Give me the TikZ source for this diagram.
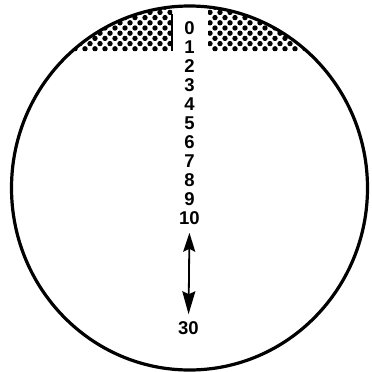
\documentclass[tikz,border=0pt]{standalone}
\usepackage{fontspec}
\setmainfont{Liberation Sans}
\usetikzlibrary{arrows.meta,calc,positioning}

\begin{document}
\begin{tikzpicture}[x=1pt,y=-1pt,
    scalelabel/.style={font=\fontsize{18.5}{18.5}\selectfont\bfseries, inner sep=0pt},
    rim/.style={line width=3.2pt}]
    \useasboundingbox (0,0) rectangle (372,372);
    \coordinate (O) at (189.5,188);

    % Shaded cap (dot screen), with a clear slot in the middle
    \begin{scope}
        \clip (O) ellipse [x radius=178pt, y radius=182pt];
        \clip (0,0) rectangle (172,51) (208,0) rectangle (372,51);
        \foreach \i in {0,...,38} {
            \foreach \j in {0,...,10} {
                \fill ({\i*10+mod(\j,2)*5}, {2+\j*5.2}) circle (2.7pt);
            }
        }
    \end{scope}
    \coordinate (slottop) at (172,14);
    \coordinate (slotbot) at (172,51);
    \draw[line width=2pt] (slottop) -- (slotbot);

    % Field of view
    \draw[rim] (O) ellipse [x radius=178pt, y radius=182pt];

    % Scale
    \foreach \n in {0,...,10} {
        \node[scalelabel] (n\n) at (189.5,{28+19*\n}) {\n};
    }
    \node[scalelabel] (n30) at (188.5,328) {30};
    \draw[{Stealth[length=19pt,width=12pt,inset=3pt]}-{Stealth[length=23pt,width=13pt,inset=3pt]},
        line width=1.8pt, shorten <=8pt, shorten >=7pt] (n10.south) -- (n30.north);
\end{tikzpicture}
\end{document}
